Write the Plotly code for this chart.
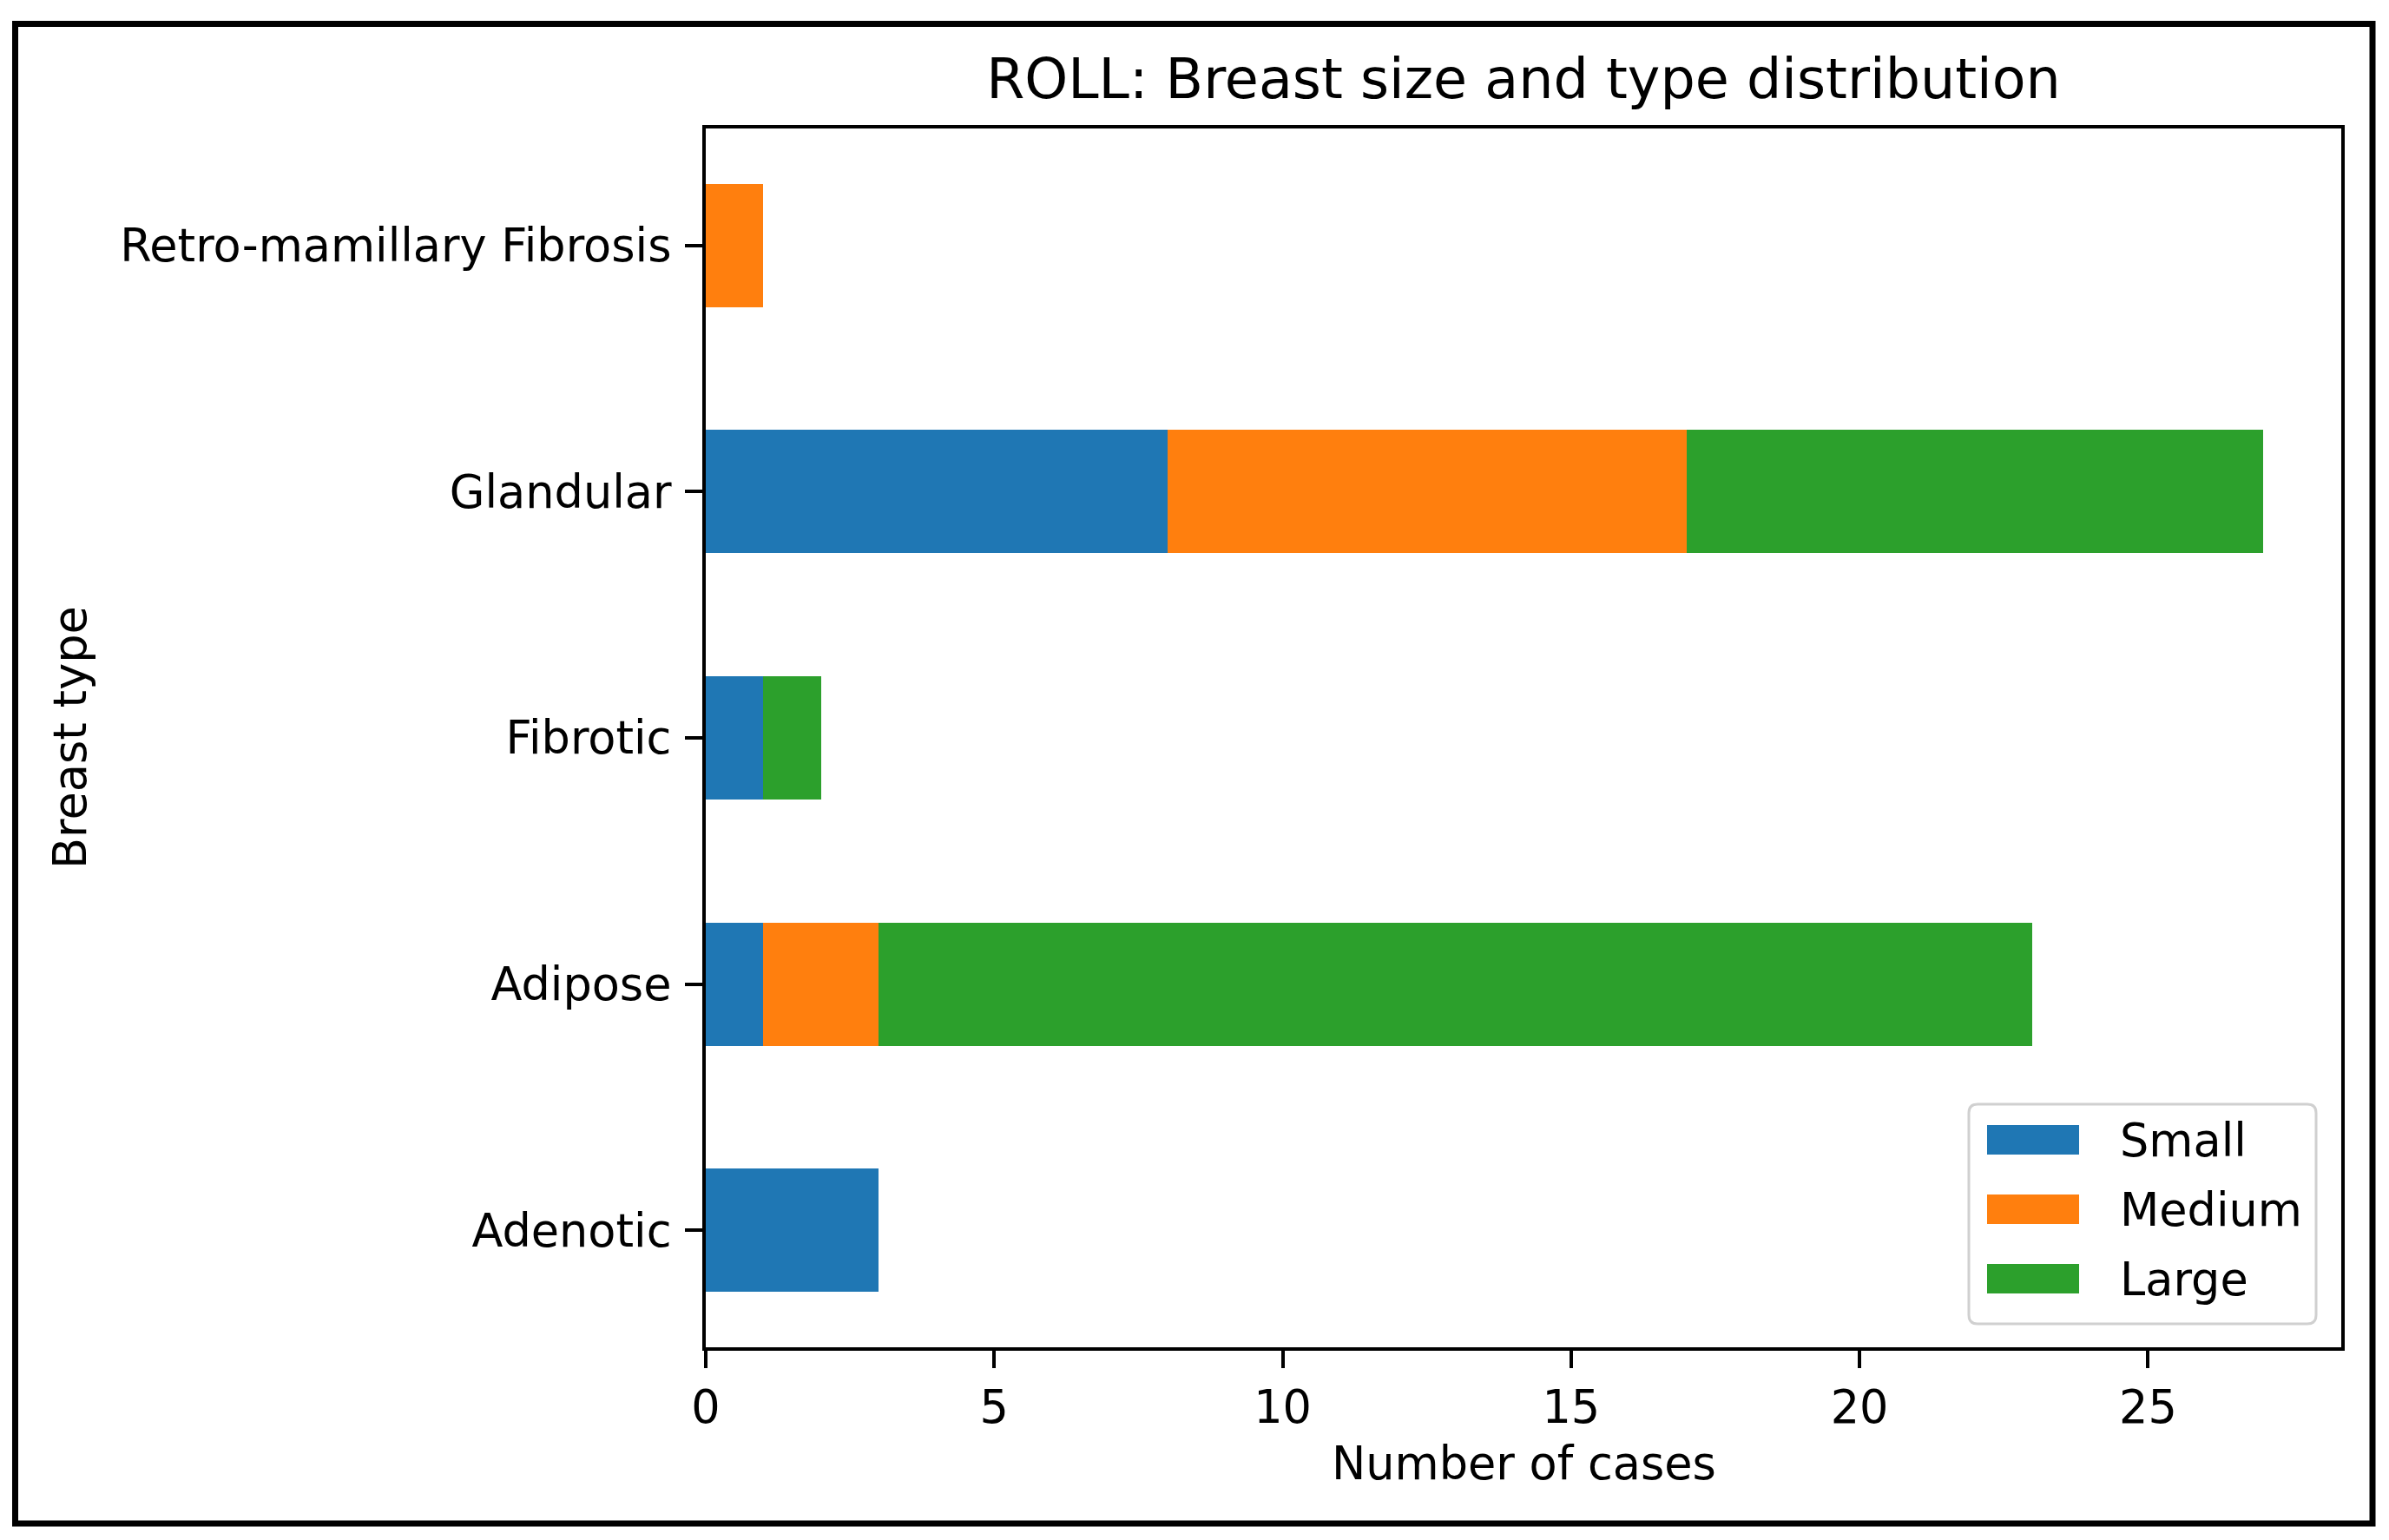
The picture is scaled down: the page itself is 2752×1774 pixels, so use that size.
import plotly.graph_objects as go

# ---- data ----
categories = ["Adenotic", "Adipose", "Fibrotic", "Glandular", "Retro-mamillary Fibrosis"]
series_names = ["Small", "Medium", "Large"]
small = [3, 1, 1, 8, 0]
medium = [0, 2, 0, 9, 1]
large = [0, 20, 1, 10, 0]
colors = ["#1f77b4", "#ff7f0e", "#2ca02c"]
x_ticks = [0, 5, 10, 15, 20, 25]

title_text = "ROLL: Breast size and type distribution"
x_title = "Number of cases"
y_title = "Breast type"

# ---- geometry (pixels) ----
W, H = 2752, 1774
L, R, T, B = 813, 2697, 148, 1552
PW, PH = R - L, B - T

def px(x):
    return (x - L) / PW

def py(y):
    return (B - y) / PH

FONT = "DejaVu Sans"
TICK = 52.5
TITLE = 63.5

fig = go.Figure()
for name, vals, col in zip(series_names, [small, medium, large], colors):
    fig.add_trace(go.Bar(
        y=categories, x=vals, name=name, orientation="h",
        marker=dict(color=col, line=dict(width=0)), width=0.5,
        showlegend=False,
    ))

fig.update_layout(
    width=W, height=H, barmode="stack",
    margin=dict(l=L, r=W - R, t=T, b=H - B, pad=0),
    paper_bgcolor="white", plot_bgcolor="white",
    font=dict(family=FONT, size=TICK, color="black"),
    title=dict(text=title_text, font=dict(family=FONT, size=TITLE, color="black"),
               x=0.5, xref="paper", xanchor="center",
               y=1 - 91 / H, yref="container", yanchor="middle"),
    bargap=0,
)
fig.update_xaxes(
    range=[0, max(s + m + l for s, m, l in zip(small, medium, large)) * 1.05],
    tickvals=x_ticks, ticks="outside", ticklen=20, tickwidth=4, tickcolor="black",
    showline=True, linewidth=4, linecolor="black", mirror=True,
    showgrid=False, zeroline=False,
    tickfont=dict(family=FONT, size=TICK, color="black"),
)
fig.update_yaxes(
    type="category", categoryorder="array", categoryarray=categories,
    range=[-0.475, len(categories) - 1 + 0.475],
    ticks="outside", ticklen=20, tickwidth=4, tickcolor="black",
    showline=True, linewidth=4, linecolor="black", mirror=True,
    showgrid=False, zeroline=False, ticklabelstandoff=5,
    tickfont=dict(family=FONT, size=TICK, color="black"),
)

# axis titles
fig.add_annotation(text=x_title, xref="paper", yref="paper", x=0.5, y=py(1685),
                   xanchor="center", yanchor="middle", showarrow=False,
                   font=dict(family=FONT, size=TICK, color="black"))
fig.add_annotation(text=y_title, xref="paper", yref="paper", x=px(80), y=0.5,
                   xanchor="center", yanchor="middle", showarrow=False, textangle=-90,
                   font=dict(family=FONT, size=TICK, color="black"))

# outer frame
fig.add_shape(type="rect", xref="paper", yref="paper",
              x0=px(17.5), x1=px(2733), y0=py(27.5), y1=py(1755),
              line=dict(color="black", width=7), fillcolor="rgba(0,0,0,0)", layer="above")

# custom legend (matplotlib-like)
lx0, lx1, ly0, ly1, rr = 2268, 2668, 1272, 1525, 10
path = (f"M {px(lx0 + rr)},{py(ly0)} L {px(lx1 - rr)},{py(ly0)} "
        f"Q {px(lx1)},{py(ly0)} {px(lx1)},{py(ly0 + rr)} "
        f"L {px(lx1)},{py(ly1 - rr)} Q {px(lx1)},{py(ly1)} {px(lx1 - rr)},{py(ly1)} "
        f"L {px(lx0 + rr)},{py(ly1)} Q {px(lx0)},{py(ly1)} {px(lx0)},{py(ly1 - rr)} "
        f"L {px(lx0)},{py(ly0 + rr)} Q {px(lx0)},{py(ly0)} {px(lx0 + rr)},{py(ly0)} Z")
fig.add_shape(type="path", xref="paper", yref="paper", path=path,
              line=dict(color="#d0d0d0", width=3), fillcolor="rgba(255,255,255,0.8)", layer="above")
row_y = [1313, 1393, 1473]
for name, col, yc in zip(series_names, colors, row_y):
    fig.add_shape(type="rect", xref="paper", yref="paper",
                  x0=px(2289), x1=px(2395), y0=py(yc - 17), y1=py(yc + 17),
                  line=dict(width=0), fillcolor=col, layer="above")
    fig.add_annotation(text=name, xref="paper", yref="paper", x=px(2440), y=py(yc),
                       xanchor="left", yanchor="middle", showarrow=False,
                       font=dict(family=FONT, size=TICK, color="black"))

fig.write_html("out.html", config={"displayModeBar": False},
               post_script="document.body.style.margin='0';")
